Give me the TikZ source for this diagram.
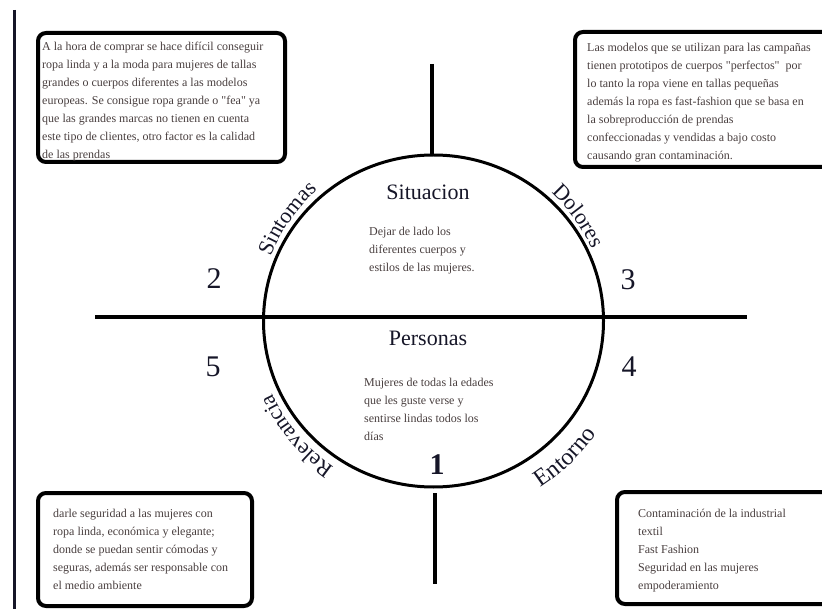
\documentclass[tikz,border=0pt]{standalone}
\usepackage{fontspec}
\setmainfont{Liberation Serif}
\newfontfamily\quotefont{Liberation Serif}
\usetikzlibrary{decorations.text}

\definecolor{bodygray}{RGB}{72,62,62}
\definecolor{inkblue}{RGB}{22,22,40}

\newcommand\arclabelfont{\fontsize{22}{22}\selectfont}
\newcommand\straightquote{{\quotefont"}}

\begin{document}
\begin{tikzpicture}[x = 1pt, y = -1pt,
	box/.style = {line width = 4pt, rounded corners = 8pt},
	bodytext/.style = {anchor = north west, align = left, inner sep = 0pt, text = bodygray, font = \fontsize{12}{18}\selectfont},
	title/.style = {inner sep = 0pt, text = inkblue, font = \fontsize{22}{22}\selectfont},
	number/.style = {inner sep = 0pt, text = inkblue, font = \fontsize{30}{30}\selectfont},
	arclabel/.style = {decorate, decoration = {text along path, text align = center, text color = inkblue, text = {|\arclabelfont|#1}}}]

	% Definitions
	
	\def\cx{433.5}		% Circle centre
	\def\cy{321}
	\def\rx{170}		% Circle radii
	\def\ry{166}
	
	\clip (0, 0) rectangle (822, 609);
	
	% Left margin bar
	
	\draw [line width = 3.5pt, inkblue] (14.5, 10) -- (14.5, 615);
	
	% Axes
	
	\coordinate (c) at (\cx, \cy);
	\draw [line width = 4pt] (95, 317) -- (747, 317);
	\draw [line width = 4pt] (431.5, 64) -- (431.5, 156);
	\draw [line width = 4pt] (435, 493) -- (435, 584);
	
	% Circle
	
	\draw [line width = 3pt] (c) circle [x radius = \rx, y radius = \ry];
	
	% Labels along the circle
	
	\path [arclabel = Sintomas] (c) ++(-175:175) arc [start angle = -175, end angle = -115, radius = 175];
	\path [arclabel = Dolores] (c) ++(-66:174) arc [start angle = -66, end angle = -6, radius = 174];
	\path [arclabel = Relevancia] (c) ++(110:177) arc [start angle = 110, end angle = 170, radius = 177];
	\path [arclabel = {|\fontsize{24}{24}\selectfont|Entorno}] (c) ++(76:198) arc [start angle = 76, end angle = 16, radius = 198];
	
	% Titles and numbers
	
	\node [title] (situacion) at (428, 192) {Situacion};
	\node [title] (personas) at (428, 338) {Personas};
	\node [number] (n2) at (214, 279) {2};
	\node [number] (n3) at (628, 280) {3};
	\node [number] (n5) at (213, 367) {5};
	\node [number] (n4) at (629, 367) {4};
	\node [number, font = \bfseries\fontsize{30}{30}\selectfont] (n1) at (437, 465) {1};
	
	% Centre texts
	
	\node [bodytext] (situacion-text) at (369, 227) {Dejar de lado los\\diferentes cuerpos y\\estilos de las mujeres.};
	\node [bodytext] (personas-text) at (364, 378) {Mujeres de todas la edades\\que les guste verse y\\sentirse lindas todos los\\días};
	
	% Corner boxes
	
	\draw [box] (38, 33) rectangle (285, 162);
	\node [bodytext] (sintomas-text) at (42, 42) {A la hora de comprar se hace difícil conseguir\\ropa linda y a la moda para mujeres de tallas\\grandes o cuerpos diferentes a las modelos\\europeas. Se consigue ropa grande o \straightquote fea\straightquote{} ya\\que las grandes marcas no tienen en cuenta\\este tipo de clientes, otro factor es la calidad\\de las prendas};
	
	\draw [box] (575, 32) rectangle (840, 167);
	\node [bodytext] (dolores-text) at (587, 43) {Las modelos que se utilizan para las campañas\\tienen prototipos de cuerpos \straightquote perfectos\straightquote~ por\\lo tanto la ropa viene en tallas pequeñas\\además la ropa es fast-fashion que se basa en\\la sobreproducción de prendas\\confeccionadas y vendidas a bajo costo\\causando gran contaminación.};
	
	\draw [box] (38, 493) rectangle (252, 606);
	\node [bodytext] (relevancia-text) at (53, 509) {darle seguridad a las mujeres con\\ropa linda, económica y elegante;\\donde se puedan sentir cómodas y\\seguras, además ser responsable con\\el medio ambiente};
	
	\draw [box] (617, 492) rectangle (840, 604);
	\node [bodytext] (entorno-text) at (638, 509) {Contaminación de la industrial\\textil\\Fast Fashion\\Seguridad en las mujeres\\empoderamiento};

\end{tikzpicture}
\end{document}
